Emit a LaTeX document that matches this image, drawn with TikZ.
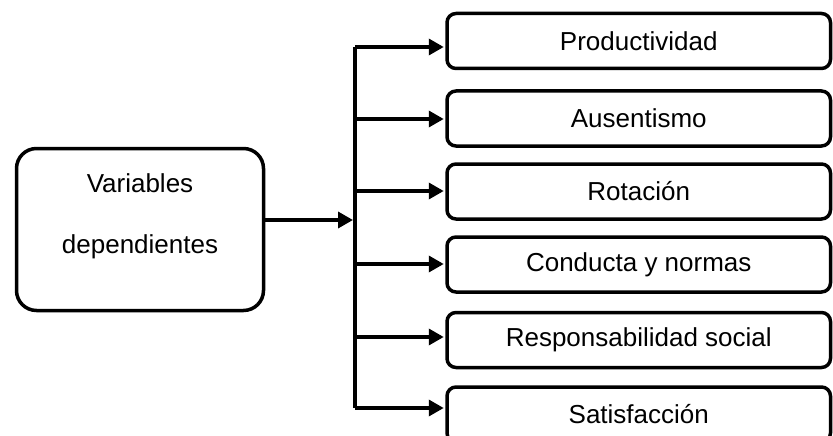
\documentclass[tikz,border=0pt]{standalone}
\usepackage{fontspec}
\setmainfont{Liberation Sans}
\usetikzlibrary{arrows.meta}
\begin{document}
\begin{tikzpicture}[x=1pt,y=-1pt,
  lw/.style={line width=3.5pt},
  bigbox/.style={draw, lw, rounded corners=20pt, minimum width=247pt, minimum height=162pt, inner sep=0pt},
  outbox/.style={draw, lw, rounded corners=9pt, minimum width=383.5pt, minimum height=55pt, inner sep=0pt, font=\fontsize{26}{31}\selectfont},
  arr/.style={lw, -{Triangle[length=15pt,width=16pt]}},
  txt/.style={font=\fontsize{26}{61}\selectfont, align=center, anchor=base, inner sep=0pt}
]
\useasboundingbox (0,0) rectangle (833,436);
\clip (0,0) rectangle (833,436);
% left box
\node[bigbox] (dv) at (140,229.5) {};
\node[txt] (dvt) at (140,253) {Variables\\dependientes};
% right boxes
\node[outbox] (p1) at (638.75,41) {Productividad};
\node[outbox] (p2) at (638.75,118.5) {Ausentismo};
\node[outbox] (p3) at (638.75,191.5) {Rotación};
\node[outbox] (p4) at (638.75,264.5) {Conducta y normas};
\node[outbox] (p5) at (638.75,340) {Responsabilidad social};
\node[outbox] (p6) at (638.75,414.5) {Satisfacción};
% spine
\coordinate (b1) at (355,47);
\coordinate (b2) at (355,119);
\coordinate (b3) at (355,191);
\coordinate (b4) at (355,264);
\coordinate (b5) at (355,337);
\coordinate (b6) at (355,408);
\coordinate (m) at (353,220);
\draw[lw] (b1) -- (b6);
\draw[arr] (dv.east |- m) -- (m);
\draw[arr] (b1) -- ([xshift=-1.5pt]b1 -| p1.west);
\draw[arr] (b2) -- ([xshift=-1.5pt]b2 -| p2.west);
\draw[arr] (b3) -- ([xshift=-1.5pt]b3 -| p3.west);
\draw[arr] (b4) -- ([xshift=-1.5pt]b4 -| p4.west);
\draw[arr] (b5) -- ([xshift=-1.5pt]b5 -| p5.west);
\draw[arr] (b6) -- ([xshift=-1.5pt]b6 -| p6.west);
\end{tikzpicture}
\end{document}
